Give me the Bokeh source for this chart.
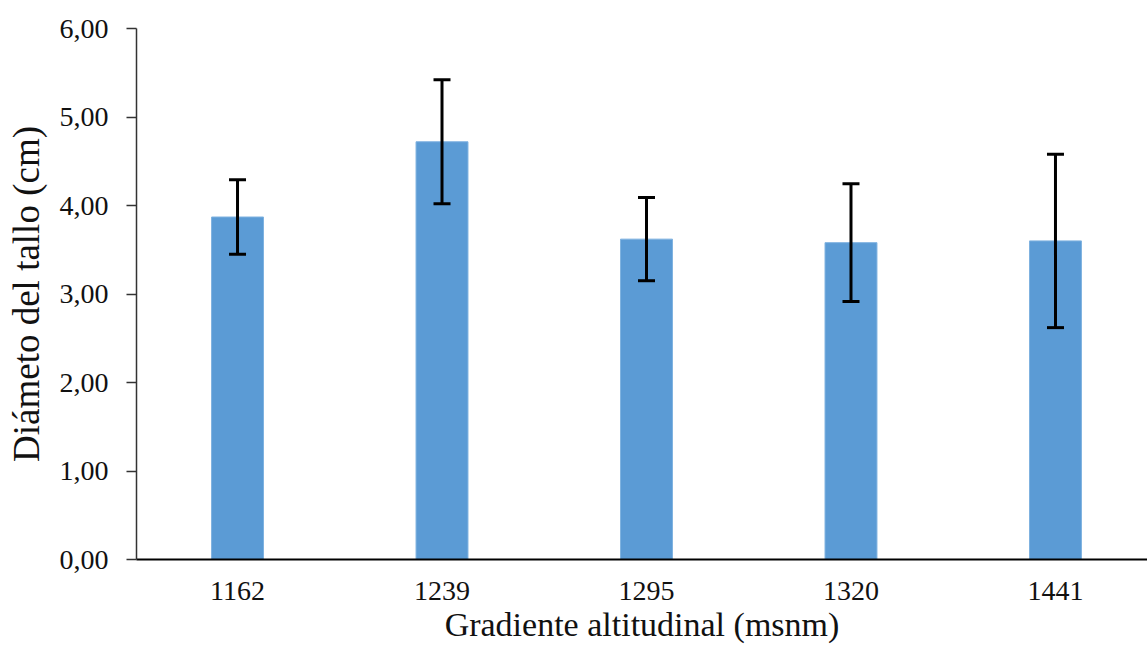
from bokeh.plotting import figure
from bokeh.models import ColumnDataSource, Range1d, FixedTicker, Whisker, TeeHead
from bokeh.embed import file_html
from bokeh.resources import INLINE

categories = ["1162", "1239", "1295", "1320", "1441"]
means = [3.87, 4.72, 3.62, 3.58, 3.60]
errors = [0.42, 0.70, 0.47, 0.665, 0.98]
y_ticks = [0, 1, 2, 3, 4, 5, 6]
y_tick_labels = ["0,00", "1,00", "2,00", "3,00", "4,00", "5,00", "6,00"]

FONT = "Liberation Serif"
idx = list(range(len(categories)))
src = ColumnDataSource(dict(
    x=idx, top=means,
    upper=[m + e for m, e in zip(means, errors)],
    lower=[m - e for m, e in zip(means, errors)],
))

p = figure(width=1147, height=650, output_backend="svg", toolbar_location=None,
           x_range=Range1d(-0.494, 4.45), y_range=Range1d(0, 6),
           min_border_left=136, min_border_right=0, min_border_top=28, min_border_bottom=91)
p.outline_line_color = None
p.xgrid.grid_line_color = None
p.ygrid.grid_line_color = None

p.vbar(x="x", top="top", width=0.254, bottom=0, source=src,
       fill_color="#5B9BD5", line_color="#7FB2E0", line_width=1)

w = Whisker(base="x", upper="upper", lower="lower", source=src, level="overlay",
            line_color="black", line_width=3,
            upper_head=TeeHead(size=17, line_color="black", line_width=3),
            lower_head=TeeHead(size=17, line_color="black", line_width=3))
p.add_layout(w)

# x axis
p.xaxis.ticker = FixedTicker(ticks=idx)
p.xaxis.major_label_overrides = {i: c for i, c in zip(idx, categories)}
p.xaxis.major_tick_line_color = None
p.xaxis.minor_tick_line_color = None
p.xaxis.axis_line_color = "black"
p.xaxis.axis_line_width = 2
p.xaxis.major_label_standoff = 16
p.xaxis.major_label_text_font = FONT
p.xaxis.major_label_text_font_size = "28px"
p.xaxis.major_label_text_color = "#111111"
p.xaxis.axis_label = "Gradiente altitudinal (msnm)"
p.xaxis.axis_label_text_font = FONT
p.xaxis.axis_label_text_font_size = "34px"
p.xaxis.axis_label_text_font_style = "normal"
p.xaxis.axis_label_text_color = "#111111"
p.xaxis.axis_label_standoff = 3

# y axis
p.yaxis.ticker = FixedTicker(ticks=y_ticks)
p.yaxis.major_label_overrides = {t: l for t, l in zip(y_ticks, y_tick_labels)}
p.yaxis.minor_tick_line_color = None
p.yaxis.major_tick_out = 10
p.yaxis.major_tick_in = 0
p.yaxis.major_tick_line_color = "#333333"
p.yaxis.major_tick_line_width = 1.5
p.yaxis.axis_line_color = "#333333"
p.yaxis.axis_line_width = 1.5
p.yaxis.major_label_standoff = 18
p.yaxis.major_label_text_font = FONT
p.yaxis.major_label_text_font_size = "28px"
p.yaxis.major_label_text_color = "#111111"
p.yaxis.axis_label = "Diámeto del tallo (cm)"
p.yaxis.axis_label_text_font = FONT
p.yaxis.axis_label_text_font_size = "37px"
p.yaxis.axis_label_text_font_style = "normal"
p.yaxis.axis_label_text_color = "#111111"
p.yaxis.axis_label_standoff = 10

open("out.html", "w").write(file_html(p, INLINE))
